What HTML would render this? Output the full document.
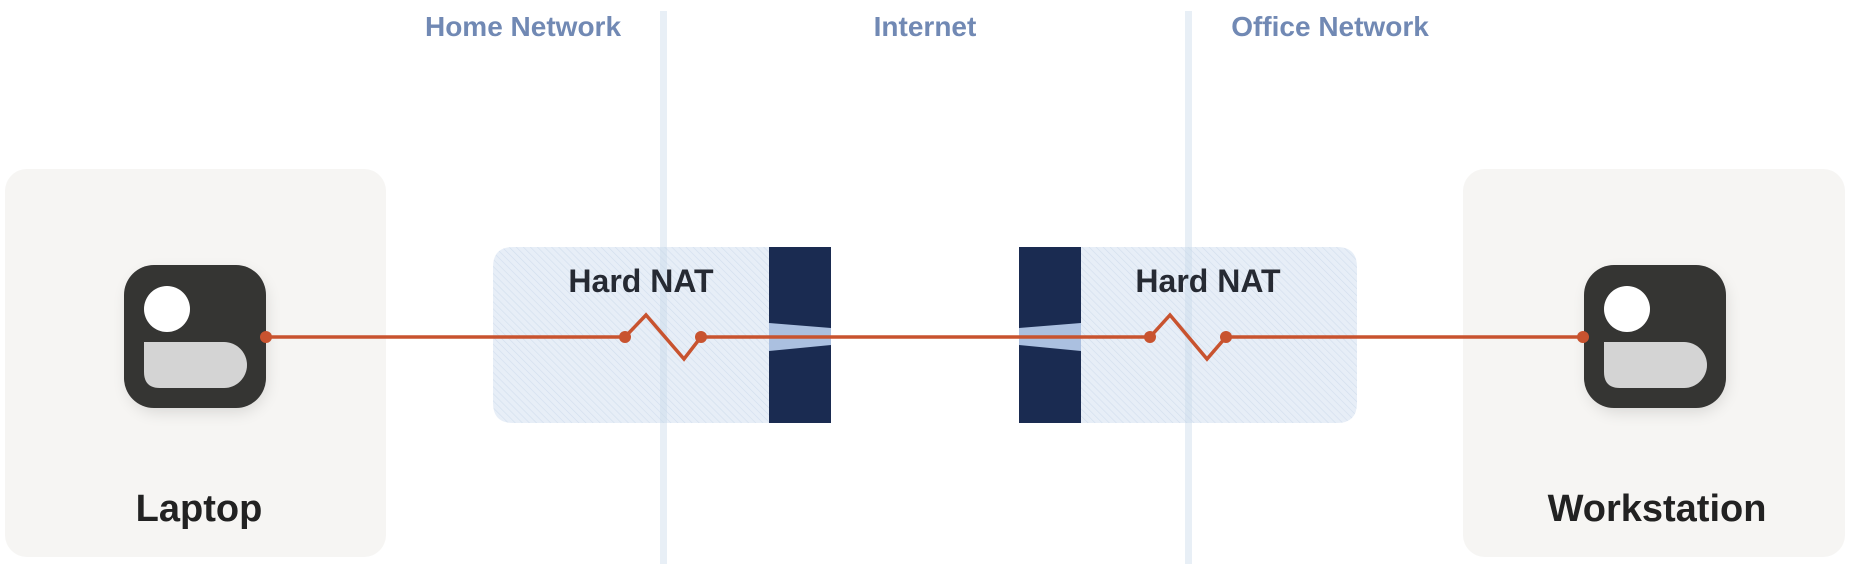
<!DOCTYPE html>
<html><head><meta charset="utf-8"><style>
html,body{margin:0;padding:0;background:#fff;width:1863px;height:564px;overflow:hidden}
svg{display:block}
text{font-family:"Liberation Sans",sans-serif}
</style></head><body>
<svg width="1863" height="564" viewBox="0 0 1863 564" xmlns="http://www.w3.org/2000/svg">
<defs>
<pattern id="h" patternUnits="userSpaceOnUse" width="5" height="5" patternTransform="rotate(-45)">
<rect width="5" height="5" fill="#e7eef7"/>
<line x1="0" y1="0" x2="0" y2="5" stroke="#d2deed" stroke-width="1.2"/>
</pattern>
<filter id="sh" x="-30%" y="-30%" width="160%" height="160%"><feGaussianBlur stdDeviation="8"/></filter>
</defs>
<rect x="5" y="169" width="381" height="388" rx="22" fill="#f6f5f3"/>
<rect x="1463" y="169" width="382" height="388" rx="22" fill="#f6f5f3"/>
<path d="M513 247 H769 V423 H513 Q493 423 493 403 V267 Q493 247 513 247Z" fill="url(#h)"/>
<rect x="769" y="247" width="62" height="176" fill="#1a2b51"/>
<polygon points="769,323 831,328 831,345 769,351" fill="#abc0e0"/>
<path d="M1081 247 H1337 Q1357 247 1357 267 V403 Q1357 423 1337 423 H1081Z" fill="url(#h)"/>
<rect x="1019" y="247" width="62" height="176" fill="#1a2b51"/>
<polygon points="1019,328 1081,323 1081,351 1019,345" fill="#abc0e0"/>
<rect x="660" y="11" width="7" height="553" fill="#c5d6e8" opacity="0.4"/>
<rect x="1185" y="11" width="7" height="553" fill="#c5d6e8" opacity="0.4"/>
<g font-size="28" font-weight="700" fill="#7189b4" text-anchor="middle">
<text x="523" y="36">Home Network</text>
<text x="925" y="36">Internet</text>
<text x="1330" y="36">Office Network</text>
</g>
<g font-size="32" font-weight="700" fill="#262a33" text-anchor="middle">
<text x="641" y="292">Hard NAT</text>
<text x="1208" y="292">Hard NAT</text>
</g>
<g>
<rect x="128" y="272" width="138" height="140" rx="30" fill="#000" opacity="0.12" filter="url(#sh)"/>
<rect x="124" y="265" width="142" height="143" rx="30" fill="#353533"/>
<circle cx="167" cy="309" r="23" fill="#fff"/>
<path d="M144 342 H224 A23 23 0 0 1 224 388 H160 Q144 388 144 372Z" fill="#d4d4d4"/>
</g>
<g>
<rect x="1588" y="272" width="138" height="140" rx="30" fill="#000" opacity="0.12" filter="url(#sh)"/>
<rect x="1584" y="265" width="142" height="143" rx="30" fill="#353533"/>
<circle cx="1627" cy="309" r="23" fill="#fff"/>
<path d="M1604 342 H1684 A23 23 0 0 1 1684 388 H1620 Q1604 388 1604 372Z" fill="#d4d4d4"/>
</g>
<g font-size="38" font-weight="700" fill="#222" text-anchor="middle">
<text x="199" y="521">Laptop</text>
<text x="1657" y="521">Workstation</text>
</g>
<g stroke="#c8532f" stroke-width="3.5" fill="none" stroke-linejoin="miter">
<polyline points="266,337 625,337 646,315 684,359 701,337 1150,337 1170,315 1207,359 1226,337 1583,337"/>
</g>
<g fill="#c8532f">
<circle cx="266" cy="337" r="6"/><circle cx="625" cy="337" r="6"/><circle cx="701" cy="337" r="6"/>
<circle cx="1150" cy="337" r="6"/><circle cx="1226" cy="337" r="6"/><circle cx="1583" cy="337" r="6"/>
</g>
</svg>
</body></html>
